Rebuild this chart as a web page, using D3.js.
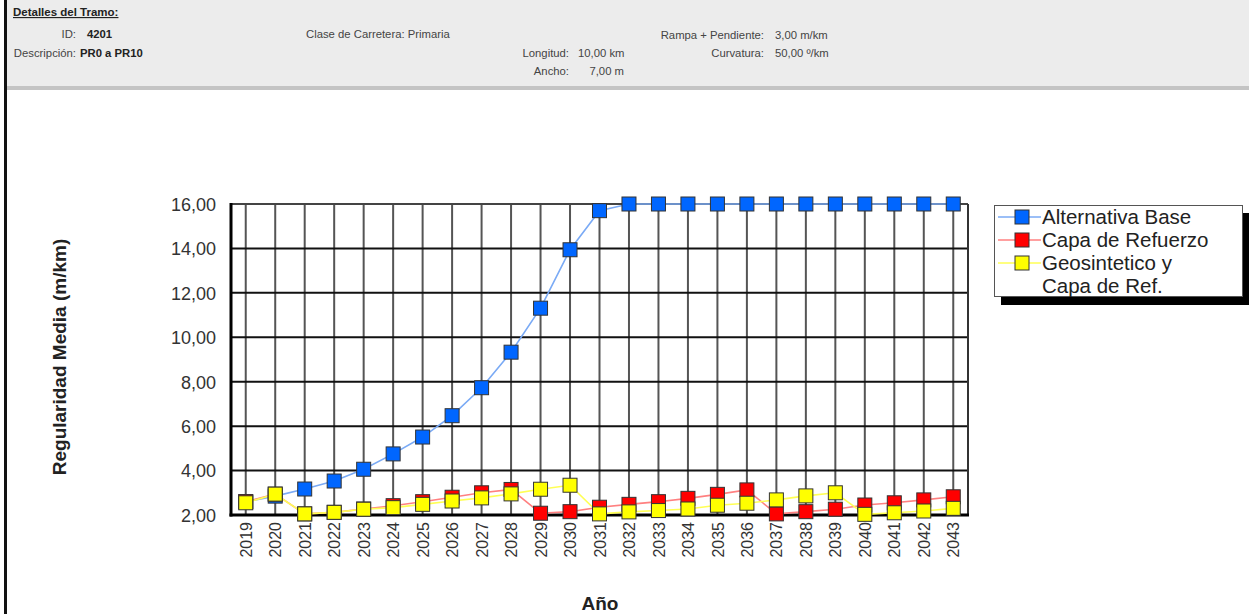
<!DOCTYPE html>
<html><head><meta charset="utf-8">
<script src="https://cdn.jsdelivr.net/npm/d3@7"></script>
<style>
html,body{margin:0;padding:0;background:#fff;}
svg{display:block;font-family:"Liberation Sans",Arial,sans-serif;}
</style></head>
<body>
<svg id="c" width="1249" height="614"></svg>
<script>
const years = [2019,2020,2021,2022,2023,2024,2025,2026,2027,2028,2029,2030,2031,2032,2033,2034,2035,2036,2037,2038,2039,2040,2041,2042,2043];
const alternativaBase = [2.60,2.85,3.17,3.53,4.06,4.75,5.51,6.47,7.73,9.33,11.31,13.94,15.70,16,16,16,16,16,16,16,16,16,16,16,16];
const capaRefuerzo = [2.60,2.94,2.05,2.12,2.27,2.42,2.60,2.80,3.00,3.15,2.08,2.15,2.35,2.48,2.60,2.75,2.93,3.13,2.05,2.15,2.26,2.45,2.55,2.68,2.82];
const geosintetico = [2.55,2.94,2.05,2.12,2.26,2.33,2.48,2.63,2.77,2.95,3.16,3.34,2.05,2.14,2.20,2.27,2.44,2.53,2.68,2.86,3.00,2.03,2.10,2.18,2.30];
const yTicks = [2,4,6,8,10,12,14,16];
const seriesNames = ["Alternativa Base","Capa de Refuerzo","Geosintetico y|Capa de Ref."];
const seriesLine = ["#7aaaf5","#ff8080","#ffff55"];
const seriesFill = ["#0066ff","#ff0000","#ffff00"];

const svg = d3.select("#c");
const fmt = v => d3.format(".2f")(v).replace(".", ",");

// header
svg.append("rect").attr("x",7).attr("y",0).attr("width",1242).attr("height",88).attr("fill","#ececec");
svg.append("rect").attr("x",7).attr("y",86).attr("width",1242).attr("height",4).attr("fill","#c4c4c4");
svg.append("rect").attr("x",4).attr("y",0).attr("width",3).attr("height",614).attr("fill","#111");

const hdr = svg.append("g").attr("font-size",11.3).attr("fill","#333");
const ht = (x,y,t,anchor,bold)=>hdr.append("text").attr("x",x).attr("y",y).attr("text-anchor",anchor||"start")
  .attr("font-weight",bold?"bold":"normal").attr("fill",bold?"#222":"#444").text(t);
ht(13,16,"Detalles del Tramo:","start",true).attr("text-decoration","underline").attr("font-size",11.5);
ht(76,38,"ID:","end"); ht(87,38,"4201","start",true);
ht(76,57,"Descripción:","end"); ht(80,57,"PR0 a PR10","start",true);
ht(306,38,"Clase de Carretera: Primaria");
ht(569,57,"Longitud:","end"); ht(578,57,"10,00 km");
ht(569,75,"Ancho:","end"); ht(624,75,"7,00 m","end");
ht(764,39,"Rampa + Pendiente:","end"); ht(775,39,"3,00 m/km");
ht(764,57,"Curvatura:","end"); ht(775,57,"50,00 º/km");

// plot
const L=231,R=968,T=204,B=515;
const x = d3.scalePoint().domain(years).range([L,R]).padding(0.5);
const y = d3.scaleLinear().domain([2,16]).range([B,T]);

const g = svg.append("g");
g.selectAll(".vg").data(years).enter().append("line")
  .attr("x1",d=>x(d)).attr("x2",d=>x(d)).attr("y1",T).attr("y2",B)
  .attr("stroke","#555").attr("stroke-width",2);
g.selectAll(".hg").data(yTicks).enter().append("line")
  .attr("x1",L).attr("x2",R).attr("y1",d=>y(d)).attr("y2",d=>y(d))
  .attr("stroke","#111").attr("stroke-width",2);
g.append("line").attr("x1",L).attr("x2",R).attr("y1",T).attr("y2",T).attr("stroke","#444").attr("stroke-width",2);
g.append("line").attr("x1",R).attr("x2",R).attr("y1",T).attr("y2",B).attr("stroke","#333").attr("stroke-width",2);
g.append("line").attr("x1",L).attr("x2",L).attr("y1",T-1).attr("y2",B+1.5).attr("stroke","#000").attr("stroke-width",3);
g.append("line").attr("x1",L-1.5).attr("x2",R+1).attr("y1",B).attr("y2",B).attr("stroke","#000").attr("stroke-width",3);

const yAxis = d3.axisLeft(y).tickValues(yTicks).tickFormat(fmt).tickSize(0).tickPadding(15);
const ya = svg.append("g").attr("transform",`translate(${L},0)`).call(yAxis);
ya.select(".domain").remove();
ya.selectAll("text").attr("font-size",18).attr("fill","#333").attr("font-family","'Liberation Sans',Arial,sans-serif").attr("dy","0.35em");

const xAxis = d3.axisBottom(x).tickSize(0).tickPadding(0);
const xa = svg.append("g").attr("transform",`translate(0,${B})`).call(xAxis);
xa.select(".domain").remove();
xa.selectAll("text").attr("font-size",16).attr("fill","#333").attr("font-family","'Liberation Sans',Arial,sans-serif")
  .attr("text-anchor","end").attr("transform","rotate(-90)").attr("x",-7).attr("y",0).attr("dy","0.35em");

svg.append("text").attr("transform",`translate(66,357) rotate(-90)`).attr("text-anchor","middle")
  .attr("font-size",19).attr("font-weight","bold").attr("fill","#222").text("Regularidad Media (m/km)");
svg.append("text").attr("x",600).attr("y",610).attr("text-anchor","middle")
  .attr("font-size",19).attr("font-weight","bold").attr("fill","#222").text("Año");

const allSeries = [alternativaBase,capaRefuerzo,geosintetico];
const line = d3.line().x((d,i)=>x(years[i])).y(d=>y(d));
const ms = 14;
allSeries.forEach((vals,si)=>{
  svg.append("path").datum(vals).attr("d",line).attr("fill","none")
    .attr("stroke",seriesLine[si]).attr("stroke-width",1.6);
});
allSeries.forEach((vals,si)=>{
  svg.append("g").selectAll("rect").data(vals).enter().append("rect")
    .attr("x",(d,i)=>x(years[i])-ms/2).attr("y",d=>y(d)-ms/2)
    .attr("width",ms).attr("height",ms)
    .attr("fill",seriesFill[si]).attr("stroke","#333").attr("stroke-width",1);
});

const lg = svg.append("g");
lg.append("rect").attr("x",1001).attr("y",213).attr("width",252).attr("height",92).attr("fill","#000");
lg.append("rect").attr("x",994.5).attr("y",205.5).attr("width",248).attr("height",91).attr("fill","#fff").attr("stroke","#555").attr("stroke-width",1);
const rowY = [217,240,263];
seriesNames.forEach((n,i)=>{
  lg.append("line").attr("x1",998).attr("x2",1041).attr("y1",rowY[i]).attr("y2",rowY[i]).attr("stroke",seriesLine[i]).attr("stroke-width",1.6);
  lg.append("rect").attr("x",1022-7).attr("y",rowY[i]-7).attr("width",14).attr("height",14)
    .attr("fill",seriesFill[i]).attr("stroke","#333").attr("stroke-width",1);
  n.split("|").forEach((part,k)=>{
    lg.append("text").attr("x",1042).attr("y",rowY[i]+k*23).attr("dy","0.35em")
      .attr("font-size",20.5).attr("fill","#222").text(part);
  });
});
</script>
</body></html>
